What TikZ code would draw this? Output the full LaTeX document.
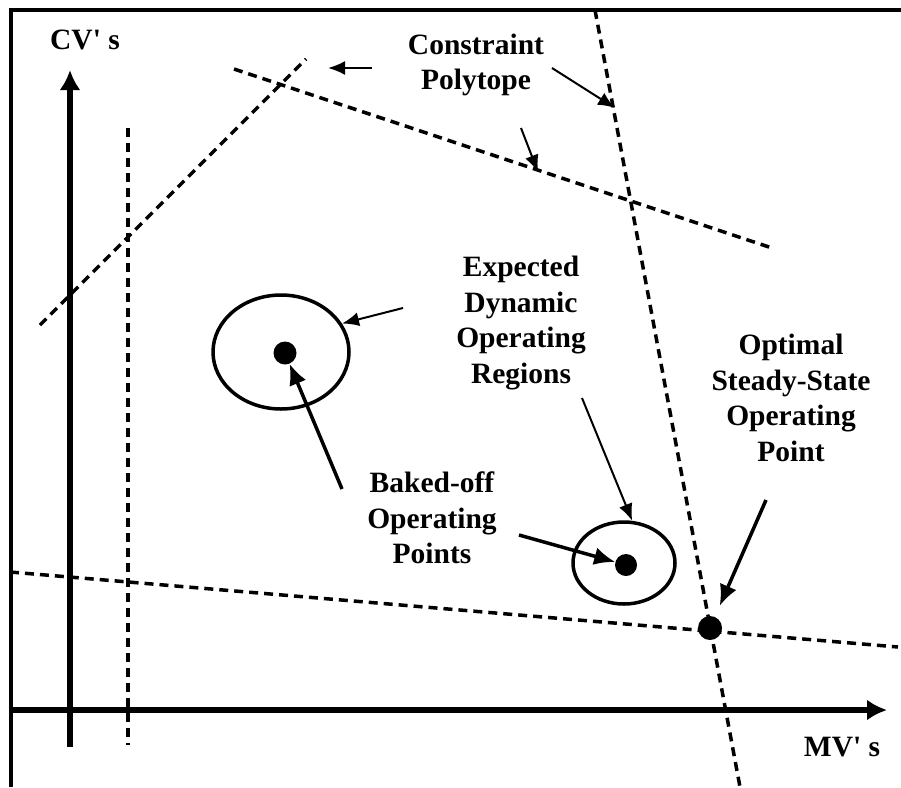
\documentclass[tikz,border=0pt]{standalone}
\usepackage{fontspec}
\setmainfont{Liberation Serif}
\usetikzlibrary{arrows.meta,calc,positioning,shapes}

\tikzset{
	lbl/.style={font=\bfseries\fontsize{29.5}{35.5}\selectfont, align=center, inner sep=0pt},
	constraint/.style={line width=3.5pt, dash pattern=on 9pt off 6pt},
	axis/.style={line width=5.5pt, -{Latex[length=20pt,width=21pt]}},
	pointer/.style={line width=2pt, -{Latex[length=17pt,width=14pt]}},
	bigpointer/.style={line width=3.5pt, -{Latex[length=21pt,width=18pt]}},
	region/.style={ellipse, draw, line width=3.5pt, inner sep=0pt},
	dot/.style={circle, fill, inner sep=0pt}
}

\begin{document}
\begin{tikzpicture}[x=1pt, y=-1pt]
	\useasboundingbox (0,0) rectangle (901,787);
	\clip (0,0) rectangle (901,787);
	\draw [line width=4pt] (11,787) -- (11,10) -- (901,10);

	% Place nodes
	\node [lbl] (cvlabel) at (85,40) {CV\textquotesingle{} s};
	\node [lbl] (mvlabel) at (842,747) {MV\textquotesingle{} s};
	\node [lbl] (polytope) at (476,65) {Constraint\\Polytope};
	\node [lbl] (expected) at (521,323) {Expected\\Dynamic\\Operating\\Regions};
	\node [lbl] (bakedoff) at (432,518) {Baked-off\\Operating\\Points};
	\node [lbl] (optimal) at (791,398) {Optimal\\Steady-State\\Operating\\Point};
	\node [region, minimum width=136pt, minimum height=114pt] (regionone) at (281,352) {};
	\node [region, minimum width=102pt, minimum height=82pt] (regiontwo) at (624,563) {};
	\node [dot, minimum size=23pt] (ptone) at (285,353) {};
	\node [dot, minimum size=22pt] (pttwo) at (626,565) {};
	\node [dot, minimum size=24pt] (optpt) at (710,628) {};

	% Axes and constraints
	\coordinate (ybottom) at (70,747);
	\coordinate (ytop) at (70,70);
	\coordinate (xleft) at (11,710);
	\coordinate (xright) at (887,710);
	\draw [axis] (ybottom) -- (ytop);
	\draw [axis] (xleft) -- (xright);
	\draw [constraint] (128,128) -- (128,745);
	\draw [constraint] (40,325) -- (306,59);
	\draw [constraint] (234,69) -- (772,248);
	\draw [constraint] (595,10) -- (740,787);
	\draw [constraint] (10,572) -- (898,647);

	% Draw edges
	\coordinate (tailpolyone) at (372,68);
	\coordinate (headpolyone) at (328,68);
	\coordinate (tailpolytwo) at (552,68);
	\coordinate (headpolytwo) at (615,108);
	\coordinate (tailpolythree) at (521,128);
	\coordinate (headpolythree) at (538,172);
	\coordinate (tailregionone) at (403,308);
	\coordinate (tailregiontwo) at (582,398);
	\coordinate (tailptone) at (342,489);
	\coordinate (tailpttwo) at (519,535);
	\coordinate (tailopt) at (766,500);
	\draw [pointer] (tailpolyone) -- (headpolyone);
	\draw [pointer] (tailpolytwo) -- (headpolytwo);
	\draw [pointer] (tailpolythree) -- (headpolythree);
	\draw [pointer] (tailregionone) -- (regionone.25);
	\draw [pointer] (tailregiontwo) -- (regiontwo.79);
	\draw [bigpointer] (tailptone) -- (ptone);
	\draw [bigpointer] (tailpttwo) -- (pttwo);
	\draw [bigpointer, shorten >=12pt] (tailopt) -- (optpt);
\end{tikzpicture}
\end{document}
